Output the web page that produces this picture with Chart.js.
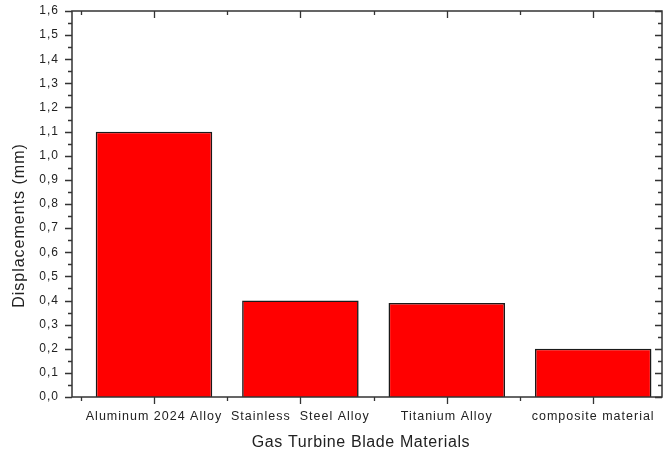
<!DOCTYPE html>
<html>
<head>
<meta charset="utf-8">
<title>Displacements by Gas Turbine Blade Material</title>
<script src="https://cdn.jsdelivr.net/npm/chart.js@4.4.1/dist/chart.umd.min.js"></script>
<style>
  html, body { margin: 0; padding: 0; background: #ffffff; }
  #wrap { width: 671px; height: 456px; position: relative; }
</style>
</head>
<body>
<div id="wrap"><canvas id="chart" width="671" height="456"></canvas></div>
<script>
// Materials along the x axis, placed at positions 1..4
const materials = ['Aluminum 2024 Alloy', 'Stainless  Steel Alloy', 'Titanium Alloy', 'composite material'];
const positions = [1, 2, 3, 4];
// Displacement of each blade material, mm
const displacements = [1.10, 0.40, 0.39, 0.20];
// Y axis range and tick step
const yMin = 0, yMax = 1.6, yStep = 0.1;
const xMin = 0.44, xMax = 4.47;

const xTitle = 'Gas Turbine Blade Materials';
const yTitle = 'Displacements (mm)';

const axisColor = '#333333';
const textColor = '#222222';
const fontFamily = '"Liberation Sans", Arial, sans-serif';

// Boxed frame with outward ticks on left/bottom and inward ticks on top/right,
// plus minor ticks halfway between the labelled ones.
const framePlugin = {
  id: 'frame',
  beforeDraw(chart) {
    chart.ctx.letterSpacing = '1px';
  },
  afterDraw(chart) {
    const { ctx, chartArea: a, scales: { x, y } } = chart;
    ctx.save();
    ctx.letterSpacing = '0px';
    ctx.strokeStyle = axisColor;
    ctx.lineWidth = 1.5;
    ctx.strokeRect(a.left, a.top, a.right - a.left, a.bottom - a.top);

    ctx.lineWidth = 1.3;
    ctx.beginPath();
    const nY = Math.round((yMax - yMin) / (yStep / 2));
    for (let i = 0; i <= nY; i++) {
      const v = yMin + i * yStep / 2;
      const py = Math.round(y.getPixelForValue(v)) + 0.5;
      const len = i % 2 === 0 ? 7 : 4;
      ctx.moveTo(a.left - len, py); ctx.lineTo(a.left, py);
      ctx.moveTo(a.right, py); ctx.lineTo(a.right - len, py);
    }
    for (let v = 0.5; v <= xMax; v += 0.5) {
      if (v < xMin) continue;
      const px = Math.round(x.getPixelForValue(v)) + 0.5;
      const len = Number.isInteger(v) ? 7 : 4;
      ctx.moveTo(px, a.bottom); ctx.lineTo(px, a.bottom + len);
      ctx.moveTo(px, a.top); ctx.lineTo(px, a.top + len);
    }
    ctx.stroke();

    // Axis titles
    ctx.fillStyle = textColor;
    ctx.textAlign = 'center';
    ctx.textBaseline = 'middle';
    ctx.font = '16px ' + fontFamily;
    ctx.letterSpacing = '0.6px';
    ctx.fillText(xTitle, 361, 443);

    ctx.translate(20, 225.5);
    ctx.rotate(-Math.PI / 2);
    ctx.letterSpacing = '1px';
    ctx.fillText(yTitle, 0, 0);
    ctx.restore();
  }
};

new Chart(document.getElementById('chart'), {
  type: 'bar',
  data: {
    datasets: [{
      data: positions.map((p, i) => ({ x: p, y: displacements[i] })),
      backgroundColor: '#ff0000',
      borderColor: '#1a1a1a',
      borderWidth: 1.6,
      categoryPercentage: 1,
      barPercentage: 0.796
    }]
  },
  options: {
    responsive: false,
    animation: false,
    devicePixelRatio: 1,
    layout: { padding: { left: 0, right: 9, top: 11, bottom: 0 } },
    plugins: { legend: { display: false }, tooltip: { enabled: false } },
    scales: {
      x: {
        type: 'linear',
        offset: false,
        min: xMin,
        max: xMax,
        grid: { display: false, drawTicks: false, offset: false },
        border: { display: false },
        afterBuildTicks(scale) {
          scale.ticks = positions.map(v => ({ value: v }));
        },
        afterFit(scale) {
          scale.height = 59;
          scale.paddingLeft = 0;
          scale.paddingRight = 0;
        },
        ticks: {
          autoSkip: false,
          maxRotation: 0,
          padding: 12,
          color: textColor,
          font: { family: fontFamily, size: 12.5 },
          callback: v => materials[positions.indexOf(v)] ?? ''
        }
      },
      y: {
        min: yMin,
        max: yMax,
        grid: { display: false, drawTicks: false },
        border: { display: false },
        afterFit(scale) {
          scale.width = 72;
          scale.paddingTop = 0;
          scale.paddingBottom = 0;
        },
        ticks: {
          stepSize: yStep,
          padding: 13,
          color: textColor,
          font: { family: fontFamily, size: 12 },
          callback: v => v.toFixed(1).replace('.', ',')
        }
      }
    }
  },
  plugins: [framePlugin]
});
</script>
</body>
</html>
